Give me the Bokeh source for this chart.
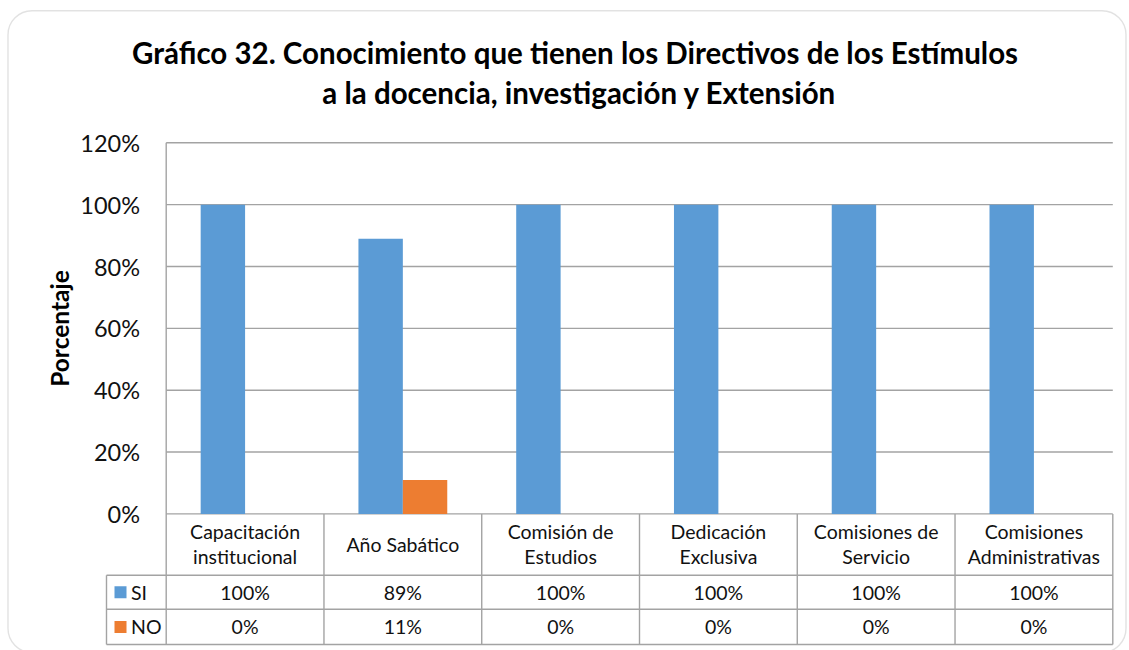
from bokeh.plotting import figure
from bokeh.models import Range1d, BoxAnnotation
from bokeh.core.properties import value
from bokeh.embed import file_html
from bokeh.resources import INLINE
import math

# ---------------- data ----------------
categories = ["Capacitación\ninstitucional", "Año Sabático", "Comisión de\nEstudios",
              "Dedicación\nExclusiva", "Comisiones de\nServicio", "Comisiones\nAdministrativas"]
si_values = [1.00, 0.89, 1.00, 1.00, 1.00, 1.00]
no_values = [0.00, 0.11, 0.00, 0.00, 0.00, 0.00]
series_names = ["SI", "NO"]
series_colors = ["#5B9BD5", "#ED7D31"]
y_ticks = [0.0, 0.2, 0.4, 0.6, 0.8, 1.0, 1.2]
y_tick_labels = ["0%", "20%", "40%", "60%", "80%", "100%", "120%"]
title_lines = ["Gráfico 32. Conocimiento que tienen los Directivos de los Estímulos",
               "a la docencia, investigación y Extensión"]
y_title = "Porcentaje"

# ---------------- layout (canvas pixels) ----------------
W, H = 1129, 650
PLOT_L, PLOT_R = 165.7, 1112.3
Y0_PX, YTOP_PX = 513.4, 142.3
YMAX = 1.2
n = len(categories)
cat_px = (PLOT_R - PLOT_L) / n
unit_px = (Y0_PX - YTOP_PX) / YMAX


def X(px):
    return (px - PLOT_L) / cat_px


def Y(py):
    return (Y0_PX - py) / unit_px


ROW1_PX, ROW2_PX, ROW3_PX = 574.7, 608.8, 644.0
LEG_L_PX = 106.0
GRID = "#a3a3a3"
FONT = value("Lato")
TXT = "#111111"

p = figure(width=W, height=H, x_range=Range1d(X(0), X(W)), y_range=Range1d(Y(H), Y(0)),
           output_backend="svg", toolbar_location=None, min_border=0,
           x_axis_location=None, y_axis_location=None, outline_line_color=None,
           background_fill_color="white", border_fill_color="white")
p.xgrid.visible = False
p.ygrid.visible = False

# outer rounded frame
p.add_layout(BoxAnnotation(left=X(7.5), right=X(1125.5), top=Y(10.3), bottom=Y(652),
                           fill_color=None, line_color="#a0a0a0", line_width=1.4,
                           border_radius=24))

# gridlines
gy = y_ticks[1:]
p.segment(x0=[0] * len(gy), x1=[n] * len(gy), y0=gy, y1=gy, line_color=GRID, line_width=1.4)
# axis line / table top
p.segment(x0=[0], x1=[n], y0=[0], y1=[0], line_color=GRID, line_width=1.4)
# left axis line down through table
p.segment(x0=[0], x1=[0], y0=[YMAX], y1=[Y(ROW3_PX)], line_color=GRID, line_width=1.4)
# category separators + right border
xs = list(range(1, n + 1))
p.segment(x0=xs, x1=xs, y0=[0] * n, y1=[Y(ROW3_PX)] * n, line_color=GRID, line_width=1.4)
# table horizontal lines (incl. legend column)
rows = [Y(ROW1_PX), Y(ROW2_PX), Y(ROW3_PX)]
p.segment(x0=[X(LEG_L_PX)] * 3, x1=[n] * 3, y0=rows, y1=rows, line_color=GRID, line_width=1.4)
p.segment(x0=[X(LEG_L_PX)], x1=[X(LEG_L_PX)], y0=[Y(ROW1_PX)], y1=[Y(ROW3_PX)],
          line_color=GRID, line_width=1.4)

# bars
bw = 0.2815
centers = [i + 0.5 for i in range(n)]
p.vbar(x=[c - bw / 2 for c in centers], width=bw, top=si_values, bottom=0,
       fill_color=series_colors[0], line_color=None)
p.vbar(x=[c + bw / 2 for c in centers], width=bw, top=no_values, bottom=0,
       fill_color=series_colors[1], line_color=None)

# title
p.text(x=[X(574.5), X(579.0)], y=[Y(52.0), Y(92.0)], text=title_lines, text_font=FONT,
       text_font_size="29.5px", text_font_style="bold", text_align="center",
       text_baseline="middle", text_color="black")

# y tick labels
p.text(x=[X(139.5)] * len(y_ticks), y=y_ticks, text=y_tick_labels, text_font=FONT,
       text_font_size="23.5px", text_align="right", text_baseline="middle", text_color=TXT)

# y axis title
p.text(x=[X(58.5)], y=[Y(328)], text=[y_title], text_font=FONT, text_font_size="24.5px",
       text_font_style="bold", text_align="center", text_baseline="middle",
       angle=math.pi / 2, text_color="black")

# category header
hx, hy, ht = [], [], []
hc = (Y0_PX + ROW1_PX) / 2
sp = 24.4
for i, lab in enumerate(categories):
    lines = lab.split("\n")
    m = len(lines)
    for k, ln in enumerate(lines):
        mid = hc - (m - 1) / 2 * sp + k * sp - 0.5
        hx.append(i + 0.5)
        hy.append(Y(mid))
        ht.append(ln)
p.text(x=hx, y=hy, text=ht, text_font=FONT, text_font_size="19.5px", text_align="center",
       text_baseline="middle", text_color=TXT)

# value rows
row_mid = [(ROW1_PX + ROW2_PX) / 2, (ROW2_PX + ROW3_PX) / 2]
for r, vals in enumerate([si_values, no_values]):
    p.text(x=centers, y=[Y(row_mid[r])] * n, text=[f"{round(v * 100)}%" for v in vals],
           text_font=FONT, text_font_size="19.5px", text_align="center",
           text_baseline="middle", text_color=TXT)
    # legend key
    p.scatter(x=[X(120)], y=[Y(row_mid[r])], marker="square", size=12,
              fill_color=series_colors[r], line_color=None)
    p.text(x=[X(130.5)], y=[Y(row_mid[r])], text=[series_names[r]], text_font=FONT,
           text_font_size="19.5px", text_align="left", text_baseline="middle",
           text_color=TXT)

open("out.html", "w").write(file_html(p, INLINE))
